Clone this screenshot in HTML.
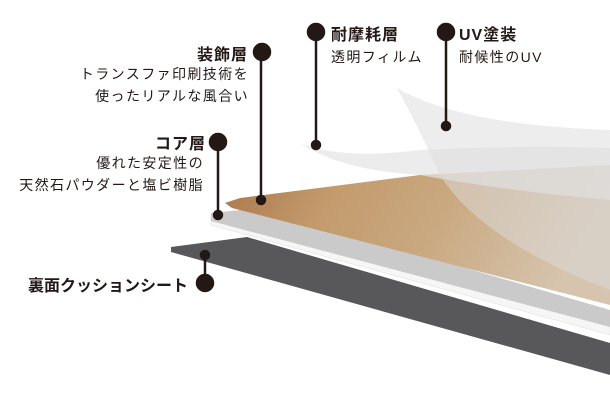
<!DOCTYPE html>
<html><head><meta charset="utf-8"><style>
html,body{margin:0;padding:0;background:#fff;}
.w{position:relative;width:610px;height:400px;overflow:hidden;font-family:"Liberation Sans","Noto Sans CJK JP",sans-serif;color:#231815;}
.t{position:absolute;white-space:nowrap;}
.h{font-size:16px;font-weight:bold;letter-spacing:1px;}
.s{font-size:14px;line-height:22px;letter-spacing:1.4px;}
.r{text-align:right;}
</style></head><body><div class="w">
<svg width="610" height="400" style="position:absolute;left:0;top:0">
<defs>
<linearGradient id="wd" x1="0" y1="0" x2="1" y2="0.2">
<stop offset="0" stop-color="#a9764a"/><stop offset="0.3" stop-color="#c39a6c"/><stop offset="0.6" stop-color="#c9a880"/><stop offset="1" stop-color="#d6c4ae"/></linearGradient>
</defs>
<polygon points="171,247 247,237 610,343 610,375 171,252" fill="#58585b"/>
<polygon points="211,215 260,210 610,318 610,335 211,225" fill="#f6f6f6" stroke="#ddd" stroke-width="0.5"/>
<polygon points="211,213 260,208 610,310 610,327 211,221" fill="#cacaca"/>
<polygon points="225,203 240,198 420,175 610,165 610,305 232,208" fill="url(#wd)"/>
<path d="M300,143 Q340,160 420,150 Q520,145 610,148 L610,200 Q500,190 420,175 Q340,170 300,143Z" fill="#e4e4e4" opacity="0.7"/>
<path d="M397,88 Q460,125 610,130 L610,290 Q480,240 440,175 Q420,130 397,88Z" fill="#dcdcdc" opacity="0.5"/>
<g stroke="#231815" stroke-width="2.5" fill="#231815">
<line x1="261" y1="52" x2="261" y2="200"/><circle cx="262" cy="52" r="8"/><circle cx="261" cy="200" r="4"/>
<line x1="316" y1="32" x2="316" y2="145"/><circle cx="316" cy="32" r="8"/><circle cx="316" cy="145" r="4"/>
<line x1="446" y1="32" x2="446" y2="126"/><circle cx="446" cy="32" r="8"/><circle cx="446" cy="126" r="4"/>
<line x1="218" y1="142" x2="218" y2="215"/><circle cx="218" cy="142" r="8"/><circle cx="218" cy="215" r="4"/>
<line x1="205" y1="255" x2="205" y2="282"/><circle cx="205" cy="255" r="4"/><circle cx="205" cy="283" r="8"/>
</g>
</svg>
<div class="t h r" style="right:362px;top:41px">装飾層</div>
<div class="t s r" style="right:361px;top:63px">トランスファ印刷技術を<br>使ったリアルな風合い</div>
<div class="t h r" style="right:404px;top:130px">コア層</div>
<div class="t s r" style="right:406px;top:152px">優れた安定性の<br>天然石パウダーと塩ビ樹脂</div>
<div class="t h" style="left:331px;top:21px">耐摩耗層</div>
<div class="t s" style="left:331px;top:46px">透明フィルム</div>
<div class="t h" style="left:459px;top:21px">UV塗装</div>
<div class="t s" style="left:459px;top:46px">耐候性のUV</div>
<div class="t h" style="left:28px;top:272px;letter-spacing:0">裏面クッションシート</div>
</div></body></html>
